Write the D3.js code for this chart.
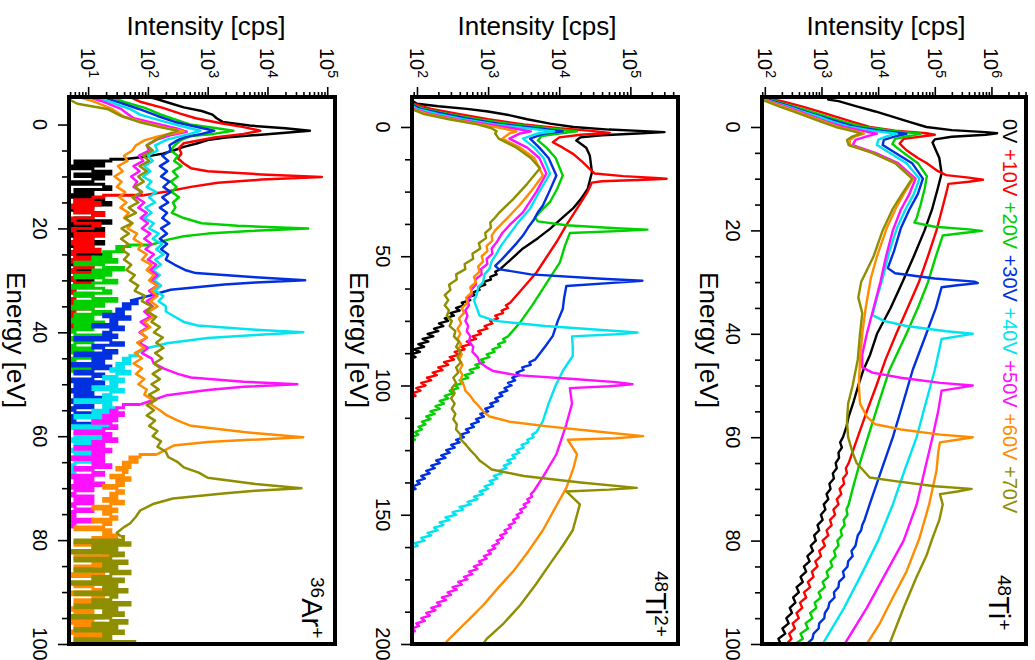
<!DOCTYPE html>
<html><head><meta charset="utf-8">
<script src="https://cdn.jsdelivr.net/npm/d3@7"></script>
<style>body{margin:0;background:#fff}svg text{font-family:"Liberation Sans",Arial,Helvetica,sans-serif}</style>
</head><body><svg id="c" width="1035" height="660"></svg>
<script>
// ---------- DATA (energy in eV, intensity as log10 of cps) ----------
const seriesNames = ["0V","+10V","+20V","+30V","+40V","+50V","+60V","+70V"];
const seriesColors = ["#000000","#ff0000","#00d000","#0030e0","#00e4f0","#ff10ff","#ff8c00","#8e8e00"];

// ---- 48Ti+ ----
const ti1_0V=[[-5.8,3.1],[-5.3,3.12],[-5,3.3],[-4,3.62],[-3,3.95],[-2,4.25],[-1,4.55],[0,4.85],[0.6,5.3],[1.0,5.9],[1.2,6.1],[1.5,5.9],[1.9,5.3],[2.4,5.0],[3,4.96],[4,5.0],[6,5.08],[9,5.12],[12,5.05],[16,4.95],[20,4.82],[25,4.63],[30,4.43],[35,4.22],[40,3.98],[44,3.86],[47,3.74],[50,3.65],[53,3.57],[56,3.48],[58,3.44],[60,3.38],[61,3.33],[62,3.36],[63,3.3],[64,3.31],[65,3.25],[66,3.27],[67,3.2],[68,3.22],[69,3.14],[70,3.16],[71,3.09],[72,3.12],[73,3.04],[74,3.07],[75,2.99],[76,3.02],[77,2.93],[78,2.96],[79,2.87],[80,2.9],[81,2.81],[82,2.85],[83,2.75],[84,2.79],[85,2.69],[86,2.73],[87,2.63],[88,2.67],[89,2.56],[90,2.6],[91,2.5],[92,2.54],[93,2.44],[94,2.48],[95,2.38],[96,2.42],[97,2.31],[98,2.36],[99,2.24],[100,2.28]];
const ti1_10V=[[-5.8,1.9],[-5.5,2.05],[-5,2.3],[-4,2.65],[-3,2.95],[-2,3.25],[-1,3.55],[0,3.85],[0.7,4.3],[1.2,4.85],[1.5,5.0],[1.8,4.8],[2.3,4.45],[3.2,4.38],[4.5,4.5],[6,4.7],[7,4.86],[8.5,5.05],[9.3,5.2],[9.8,5.6],[10.2,5.85],[10.6,5.6],[11,5.24],[12,5.22],[15,5.15],[20,5.03],[25,4.88],[30,4.72],[35,4.52],[40,4.32],[45,4.13],[50,3.97],[55,3.8],[60,3.64],[65,3.48],[66,3.43],[67,3.45],[68,3.38],[69,3.4],[70,3.32],[71,3.35],[72,3.27],[73,3.3],[74,3.21],[75,3.24],[76,3.15],[77,3.18],[78,3.09],[79,3.12],[80,3.02],[81,3.06],[82,2.96],[83,2.99],[84,2.89],[85,2.93],[86,2.83],[87,2.86],[88,2.76],[89,2.8],[90,2.69],[91,2.73],[92,2.62],[93,2.66],[94,2.56],[95,2.6],[96,2.49],[97,2.53],[98,2.43],[99,2.47],[100,2.38]];
const ti1_20V=[[-5.8,1.9],[-5.3,2.1],[-4,2.5],[-3,2.8],[-2,3.1],[-1,3.4],[0,3.75],[0.8,4.3],[1.3,4.75],[1.7,4.55],[2.3,4.3],[3.3,4.25],[5,4.45],[7,4.7],[9.5,4.86],[12,4.82],[15,4.75],[17.6,4.68],[18.5,4.64],[19.3,5.0],[19.8,5.6],[20.1,5.83],[20.5,5.5],[21,5.14],[25,5.02],[30,4.88],[35,4.7],[40,4.5],[47,4.2],[53,4.02],[60,3.82],[66,3.65],[70,3.55],[73,3.48],[74,3.44],[75,3.46],[76,3.39],[77,3.41],[78,3.34],[79,3.36],[80,3.28],[81,3.3],[82,3.22],[83,3.25],[84,3.16],[85,3.19],[86,3.09],[87,3.12],[88,3.02],[89,3.06],[90,2.95],[91,2.99],[92,2.88],[93,2.91],[94,2.8],[95,2.84],[96,2.72],[97,2.76],[98,2.63],[99,2.67],[100,2.53]];
const ti1_30V=[[-5.8,1.9],[-5.3,2.05],[-4,2.45],[-3,2.7],[-2,3.0],[-1,3.3],[0,3.6],[0.8,4.1],[1.3,4.5],[1.8,4.3],[2.5,4.1],[3.5,4.08],[5,4.3],[7,4.6],[10,4.79],[13,4.7],[16,4.55],[19.6,4.4],[24,4.28],[27.3,4.17],[28.3,4.3],[29.3,5.0],[29.9,5.7],[30.2,5.76],[30.6,5.4],[31,5.12],[35,5.02],[40,4.85],[47,4.61],[53,4.45],[60,4.26],[66,4.07],[73,3.85],[76,3.76],[77,3.72],[78,3.7],[79,3.64],[80,3.62],[81,3.6],[82,3.53],[83,3.55],[84,3.47],[85,3.46],[86,3.38],[87,3.4],[88,3.31],[89,3.3],[90,3.22],[91,3.23],[92,3.14],[93,3.12],[94,3.06],[95,3.05],[96,2.96],[97,2.95],[98,2.86],[99,2.84],[100,2.74]];
const ti1_40V=[[-5.8,1.9],[-5.3,2.0],[-4,2.4],[-3,2.65],[-2,2.95],[-1,3.2],[0,3.5],[0.8,3.95],[1.3,4.33],[1.8,4.15],[2.5,4.0],[3.5,3.98],[5,4.2],[7,4.5],[10,4.73],[13,4.63],[16,4.48],[19.6,4.33],[24,4.2],[29.3,4.08],[33,3.98],[36.4,3.9],[37.5,4.1],[38.5,4.5],[39.5,5.2],[40,5.67],[40.5,5.4],[41,5.12],[44,5.06],[47,5.0],[53,4.85],[60,4.68],[66,4.48],[73,4.26],[80,4.0],[86,3.73],[93,3.4],[100,3.02]];
const ti1_50V=[[-5.8,1.9],[-5.3,2.0],[-4,2.35],[-3,2.6],[-2,2.85],[-1,3.1],[0,3.4],[0.8,3.75],[1.3,3.98],[1.8,3.8],[2.5,3.6],[3.5,3.55],[5,3.95],[7,4.35],[10,4.66],[13,4.55],[16,4.4],[20,4.26],[25,4.14],[30,4.04],[35,3.92],[40,3.8],[44,3.72],[46.5,3.72],[47.5,3.9],[48.5,4.4],[49.5,5.1],[50,5.67],[50.5,5.4],[51,5.12],[55,5.06],[60,4.96],[66,4.83],[73,4.68],[80,4.45],[86,4.15],[93,3.8],[100,3.41]];
const ti1_60V=[[-5.8,1.9],[-5.3,1.98],[-4,2.3],[-3,2.55],[-2,2.8],[-1,3.05],[0,3.3],[0.8,3.6],[1.3,3.75],[1.8,3.6],[2.5,3.5],[3.5,3.5],[5,3.9],[7,4.3],[10,4.62],[13,4.45],[16,4.3],[19.6,4.15],[25,3.98],[29.3,3.87],[35,3.78],[40,3.72],[45,3.68],[50,3.66],[53.5,3.68],[56,3.8],[57.5,3.95],[58.5,4.4],[59.5,5.1],[60,5.67],[60.5,5.4],[61,5.09],[63,5.06],[66.5,5.03],[73,4.9],[79.5,4.73],[86,4.5],[91,4.26],[96,4.03],[100,3.8]];
const ti1_70V=[[-5.8,1.9],[-5.3,1.95],[-4,2.25],[-3,2.5],[-2,2.75],[-1,3.0],[0,3.25],[0.8,3.55],[1.3,3.7],[1.8,3.55],[2.5,3.45],[3.5,3.48],[5,3.9],[7,4.3],[10,4.6],[13,4.42],[16,4.25],[20,4.08],[25,3.92],[30,3.7],[33,3.65],[36,3.72],[40,3.68],[45,3.64],[50,3.55],[53.5,3.47],[57,3.45],[60,3.47],[63,3.55],[65,3.62],[67.8,3.85],[68.5,4.3],[69.5,5.0],[70,5.65],[70.5,5.4],[71,5.09],[73,5.14],[76,5.08],[79.5,4.96],[83,4.85],[87,4.68],[93,4.45],[100,4.2]];

// ---- 48Ti2+ ----
const ti2_0V=[[-11.6,1.85],[-9,2.0],[-8,2.3],[-7,2.7],[-6,3.0],[-4.5,3.31],[-3,3.55],[-1.3,3.87],[0,4.2],[1,4.7],[1.6,5.2],[2,5.48],[2.5,5.1],[3.2,4.6],[4,4.3],[5.2,4.24],[8,4.38],[11,4.43],[17.5,4.46],[24,4.4],[28,4.3],[31.6,4.19],[35,4.05],[39.4,3.87],[43,3.7],[47,3.49],[51,3.33],[55,3.17],[56,3.1],[57,3.12],[58,3.03],[59,3.04],[60,2.93],[61,2.96],[62,2.86],[63,2.88],[64,2.79],[65,2.81],[66,2.7],[67,2.75],[68,2.63],[69,2.66],[70,2.55],[71,2.6],[72,2.47],[73,2.52],[74,2.39],[75,2.44],[76,2.31],[77,2.37],[78,2.24],[79,2.3],[80,2.15],[81,2.23],[82,2.08],[83,2.16],[84,2.02],[85,2.1],[86,1.96],[87,2.04],[88,1.9],[89,1.98],[90,1.85]];
const ti2_10V=[[-11.6,1.85],[-9,1.95],[-7,2.2],[-5,2.6],[-3,3.0],[-1,3.5],[0.5,4.0],[1.5,4.45],[2.3,4.71],[3,4.3],[4,4.0],[5.9,3.91],[8,4.05],[10.5,4.2],[13.6,4.33],[16,4.42],[18,4.5],[19,4.9],[19.7,5.35],[20,5.51],[20.4,5.2],[21,4.6],[21.5,4.46],[25,4.4],[31.6,4.25],[38,4.1],[44.6,3.96],[50,3.83],[56.3,3.68],[62,3.5],[68,3.31],[69,3.25],[70,3.28],[71,3.19],[72,3.21],[73,3.1],[74,3.14],[75,3.03],[76,3.06],[77,2.95],[78,2.99],[79,2.86],[80,2.9],[81,2.78],[82,2.83],[83,2.7],[84,2.76],[85,2.62],[86,2.67],[87,2.53],[88,2.6],[89,2.46],[90,2.52],[91,2.38],[92,2.44],[93,2.3],[94,2.36],[95,2.22],[96,2.28],[97,2.14],[98,2.2],[99,2.06],[100,2.12],[101,1.99],[102,2.05],[103,1.93],[104,1.98],[105,1.86]];
const ti2_20V=[[-11.6,1.85],[-9,1.9],[-7,2.1],[-5,2.45],[-3,2.85],[-1,3.35],[0.5,3.85],[1.7,4.25],[2.5,4.0],[3.5,3.75],[5.2,3.7],[8,3.82],[12,3.95],[18.8,4.05],[24,3.97],[29,3.87],[32,3.76],[35,3.66],[36.5,3.7],[38,4.1],[39.2,4.8],[39.7,5.24],[40.2,4.9],[41,4.15],[46,4.08],[52.4,4.01],[57,3.9],[62.6,3.77],[69,3.62],[75.6,3.45],[81,3.28],[82,3.21],[83,3.24],[84,3.14],[85,3.17],[86,3.06],[87,3.09],[88,2.98],[89,3.02],[90,2.9],[91,2.94],[92,2.82],[93,2.87],[94,2.74],[95,2.79],[96,2.67],[97,2.72],[98,2.6],[99,2.65],[100,2.53],[101,2.58],[102,2.46],[103,2.51],[104,2.39],[105,2.44],[106,2.32],[107,2.38],[108,2.26],[109,2.32],[110,2.19],[111,2.25],[112,2.13],[113,2.19],[114,2.07],[115,2.12],[116,2.02],[117,2.07],[118,1.97],[119,2.02],[120,1.92],[121,1.97],[122,1.87]];
const ti2_30V=[[-11.6,1.85],[-9,1.9],[-7,2.05],[-5,2.4],[-3,2.75],[-1,3.2],[0.5,3.7],[1.7,4.05],[2.5,3.8],[4.5,3.59],[8,3.72],[12,3.85],[18.8,3.96],[25,3.86],[30.4,3.77],[33,3.7],[36,3.64],[39,3.56],[42,3.49],[45,3.4],[48,3.3],[51,3.2],[53.7,3.1],[55,3.15],[57,3.6],[58.7,4.6],[59.5,5.17],[60.2,4.8],[61.5,4.1],[66,4.07],[70.4,4.05],[75,3.98],[80.8,3.91],[85,3.8],[90,3.66],[91,3.58],[92,3.6],[93,3.48],[94,3.5],[95,3.4],[96,3.44],[97,3.34],[98,3.38],[99,3.28],[100,3.33],[101,3.23],[102,3.27],[103,3.16],[104,3.2],[105,3.1],[106,3.14],[107,3.03],[108,3.07],[109,2.96],[110,3.0],[111,2.89],[112,2.94],[113,2.83],[114,2.87],[115,2.76],[116,2.8],[117,2.69],[118,2.73],[119,2.61],[120,2.66],[121,2.55],[122,2.6],[123,2.48],[124,2.53],[125,2.41],[126,2.46],[127,2.34],[128,2.4],[129,2.27],[130,2.32],[131,2.2],[132,2.25],[133,2.13],[134,2.18],[135,2.06],[136,2.11],[137,2.0],[138,2.04],[139,1.94],[140,1.98],[141,1.88]];
const ti2_40V=[[-11.6,1.85],[-9,1.88],[-7,2.0],[-5,2.3],[-3,2.65],[-1,3.1],[0.5,3.55],[1.7,3.93],[2.5,3.7],[4.5,3.49],[8,3.65],[12,3.78],[18,3.87],[25,3.72],[31.6,3.59],[37,3.42],[43,3.26],[46,3.18],[49,3.12],[52,3.05],[54.8,3.02],[57,2.95],[60,2.93],[62,2.86],[65,2.84],[67,2.8],[70,2.84],[73,2.88],[75,3.1],[77,3.8],[78.7,4.7],[79.5,5.1],[80.2,4.8],[81,4.18],[85,4.19],[88.6,4.19],[94.4,4.05],[100,3.95],[107,3.85],[113.8,3.77],[118,3.68],[119,3.62],[120,3.64],[121,3.55],[122,3.57],[123,3.47],[124,3.5],[125,3.4],[126,3.44],[127,3.34],[128,3.38],[129,3.27],[130,3.32],[131,3.22],[132,3.26],[133,3.15],[134,3.19],[135,3.08],[136,3.13],[137,3.02],[138,3.07],[139,2.95],[140,3.0],[141,2.88],[142,2.93],[143,2.8],[144,2.85],[145,2.71],[146,2.76],[147,2.6],[148,2.65],[149,2.5],[150,2.55],[151,2.4],[152,2.46],[153,2.32],[154,2.37],[155,2.24],[156,2.29],[157,2.15],[158,2.2],[159,2.06],[160,2.11],[161,1.97],[162,2.01],[163,1.88]];
const ti2_50V=[[-11.6,1.85],[-7,1.95],[-5,2.2],[-3,2.55],[-1,3.0],[0.5,3.35],[1.7,3.6],[2.5,3.45],[4.5,3.3],[8,3.55],[12,3.72],[18,3.82],[25,3.68],[33,3.49],[38,3.3],[41,3.2],[44.6,3.12],[47,3.05],[49,3.06],[51,2.98],[53,2.99],[55,2.9],[57,2.91],[59,2.82],[61,2.83],[63,2.76],[65,2.77],[67,2.71],[69,2.73],[71,2.68],[73,2.71],[75,2.68],[77,2.72],[79,2.7],[81,2.75],[83,2.73],[85,2.79],[87,2.78],[89,2.85],[91,2.88],[93,2.98],[94.4,3.07],[96,3.4],[97.5,4.2],[98.7,4.8],[99.5,5.03],[100.3,4.7],[101,4.15],[107,4.18],[115,4.1],[126.6,3.96],[135,3.78],[141,3.64],[142,3.6],[143,3.62],[144,3.55],[145,3.58],[146,3.5],[147,3.53],[148,3.45],[149,3.48],[150,3.4],[151,3.43],[152,3.35],[153,3.38],[154,3.29],[155,3.32],[156,3.23],[157,3.26],[158,3.17],[159,3.21],[160,3.12],[161,3.15],[162,3.06],[163,3.1],[164,3.0],[165,3.04],[166,2.94],[167,2.98],[168,2.87],[169,2.91],[170,2.8],[171,2.85],[172,2.73],[173,2.78],[174,2.66],[175,2.71],[176,2.58],[177,2.63],[178,2.5],[179,2.56],[180,2.43],[181,2.48],[182,2.35],[183,2.41],[184,2.28],[185,2.33],[186,2.2],[187,2.26],[188,2.13],[189,2.18],[190,2.06],[191,2.11],[192,1.99],[193,2.03],[194,1.93],[195,1.97],[196,1.87]];
const ti2_60V=[[-11.6,1.85],[-7,1.93],[-5,2.15],[-3,2.5],[-1,2.9],[0.5,3.2],[1.7,3.4],[2.5,3.3],[4.5,3.2],[8,3.45],[12,3.65],[18.8,3.77],[25,3.6],[30,3.45],[35,3.28],[40,3.1],[42,3.05],[44,3.06],[46,2.98],[48,2.99],[50,2.91],[52,2.93],[54,2.86],[56,2.88],[58,2.8],[60,2.83],[62,2.75],[64,2.77],[66,2.69],[68,2.71],[70,2.63],[72,2.66],[74,2.59],[76,2.62],[78,2.57],[80,2.61],[82,2.57],[84,2.62],[86,2.58],[88,2.63],[90,2.59],[92,2.64],[94,2.6],[96,2.64],[98,2.61],[100,2.66],[102,2.68],[104,2.75],[106,2.8],[108,2.87],[110,2.93],[112,3.02],[114,3.3],[116,3.9],[118,4.6],[119.6,5.18],[120.4,4.8],[121,4.12],[126.6,4.25],[132,4.2],[139.6,4.1],[147,3.95],[156,3.77],[164,3.57],[172,3.35],[178,3.15],[185,2.93],[190,2.75],[194,2.6],[199,2.42],[200,2.4]];
const ti2_70V=[[-11.6,1.85],[-7,1.92],[-5,2.1],[-3,2.45],[-1,2.85],[0.5,3.05],[1.7,3.12],[2.5,3.1],[4.5,3.15],[8,3.4],[12,3.6],[16,3.73],[22,3.55],[28,3.35],[33,3.16],[35,3.1],[37,3.03],[39,3.04],[41,2.96],[43,2.97],[45,2.87],[47,2.89],[49,2.78],[51,2.79],[53,2.67],[55,2.68],[57,2.55],[59,2.56],[61,2.45],[63,2.47],[65,2.39],[67,2.44],[69,2.39],[71,2.45],[73,2.42],[75,2.49],[77,2.46],[79,2.54],[81,2.52],[83,2.59],[85,2.55],[87,2.61],[89,2.57],[91,2.62],[93,2.55],[95,2.58],[97,2.51],[99,2.55],[101,2.49],[103,2.53],[105,2.48],[107,2.53],[109,2.49],[111,2.54],[113,2.51],[115,2.56],[117,2.55],[119,2.61],[121,2.62],[123,2.69],[125,2.75],[127,2.82],[129,2.88],[131,2.98],[132.5,3.05],[135,3.5],[137.5,4.3],[139.6,5.09],[140.3,4.7],[141,4.1],[146,4.29],[151,4.24],[156,4.19],[162,4.05],[169,3.87],[177,3.67],[185,3.45],[192,3.22],[198,2.98],[200,2.93]];

// ---- 36Ar+ (main traces) ----
const ar_0V=[[-5.3,2.0],[-5,2.12],[-4.3,2.32],[-3.3,2.6],[-2.6,2.9],[-1.9,3.08],[-1.2,3.15],[-0.5,3.25],[0.2,3.7],[0.7,4.3],[1.2,4.71],[1.6,4.3],[2,3.84],[2.5,3.3],[3,3.0],[3.6,2.83],[4.3,2.6],[5,2.43],[5.6,2.25],[6.2,1.95],[6.7,1.6]];
const ar_10V=[[-5.3,1.7],[-4.4,1.87],[-3.2,2.25],[-2.1,2.54],[-1.2,2.8],[-0.3,3.2],[0.5,3.6],[1.2,3.88],[1.8,3.6],[2.5,3.11],[3.6,2.6],[4.5,2.52],[5.6,2.56],[6.5,2.5],[7.5,2.6],[8.4,2.72],[9,3.0],[9.6,3.9],[10.1,4.91],[10.6,3.9],[11.2,3.17],[12,2.72],[12.9,2.32],[13.6,1.93]];
const ar_20V=[[-5.3,1.4],[-4.4,1.59],[-3.2,1.95],[-2,2.2],[-1,2.45],[0,2.7],[0.6,3.1],[1.2,3.43],[1.8,3.1],[2.2,2.72],[3,2.55],[4,2.45],[5,2.38],[6,2.5],[7,2.44],[8,2.56],[9,2.42],[10,2.5],[11,2.38],[12,2.48],[13,2.4],[14,2.52],[15,2.42],[16,2.46],[17,2.4],[18,2.6],[19,2.9],[19.5,3.5],[20,4.68],[20.5,3.7],[21,3.0],[21.5,2.6],[22.2,2.32],[23.2,2.04]];
const ar_30V=[[-5.3,1.25],[-4.4,1.48],[-3,1.85],[-1.7,2.15],[-0.5,2.45],[0.3,2.75],[1.2,3.11],[1.8,2.9],[2.5,2.6],[3,2.5],[4,2.36],[5,2.38],[6,2.24],[7,2.34],[8,2.2],[9,2.32],[10,2.22],[11,2.36],[12,2.26],[13,2.38],[14,2.24],[15,2.34],[16,2.2],[17,2.32],[18,2.24],[19,2.36],[20,2.22],[21,2.32],[22,2.2],[23,2.32],[24,2.22],[25,2.34],[26,2.3],[27,2.45],[28,2.62],[28.6,2.8],[29.4,3.8],[30,4.63],[30.4,3.8],[30.8,3.28],[31.8,2.38],[32.9,2.04],[33.9,1.7]];
const ar_40V=[[-5.3,1.1],[-4.4,1.35],[-3,1.7],[-1.9,1.87],[-0.8,2.2],[0.3,2.55],[1.2,2.88],[1.8,2.7],[2.9,2.32],[4,2.12],[5,2.16],[6,2.0],[7,2.08],[8,1.94],[9,2.04],[10,1.92],[11,2.06],[12,1.98],[13,2.14],[14,2.02],[15,2.12],[16,1.96],[17,2.06],[18,1.94],[19,2.1],[20,2.02],[21,2.18],[22,2.08],[23,2.24],[24,2.14],[25,2.26],[26,2.12],[27,2.22],[28,2.08],[29,2.2],[30,2.1],[31,2.22],[32,2.12],[33,2.26],[34,2.18],[35,2.3],[36,2.3],[37,2.45],[38,2.6],[38.7,2.83],[39.5,3.8],[40,4.6],[40.5,3.8],[41.1,3.0],[42.1,2.32],[43.2,1.93],[44,1.82]];
const ar_50V=[[-5.3,1.0],[-4.4,1.25],[-3,1.55],[-1.2,1.76],[0,2.2],[0.8,2.5],[1.4,2.65],[2,2.4],[2.9,2.15],[4,1.98],[5,2.02],[6,1.85],[7,1.92],[8,1.76],[9,1.86],[10,1.72],[11,1.82],[12,1.76],[13,1.9],[14,1.8],[15,1.94],[16,1.84],[17,1.98],[18,1.88],[19,2.0],[20,1.9],[21,2.04],[22,1.94],[23,2.06],[24,1.96],[25,2.1],[26,2.0],[27,2.14],[28,2.04],[29,2.16],[30,2.06],[31,2.16],[32,2.02],[33,2.12],[34,1.98],[35,2.08],[36,1.94],[37,2.04],[38,1.88],[39,2.0],[40,1.86],[41,1.98],[42,1.86],[43,2.0],[44,1.9],[45,2.06],[46,2.1],[47,2.27],[48,2.5],[48.7,2.72],[49.5,3.6],[50,4.5],[50.5,3.6],[51.1,3.0],[52.1,2.32],[53.9,1.87]];
const ar_60V=[[-5.3,0.85],[-4.4,1.1],[-3,1.4],[-1.5,1.6],[-0.5,1.9],[0.5,2.25],[1.3,2.6],[2.2,2.2],[3,1.95],[4,1.8],[5,1.74],[6,1.6],[7,1.66],[8,1.5],[9,1.58],[10,1.44],[11,1.56],[12,1.48],[13,1.62],[14,1.52],[15,1.64],[16,1.54],[17,1.68],[18,1.6],[19,1.74],[20,1.66],[21,1.82],[22,1.76],[23,1.9],[24,1.84],[25,1.98],[26,1.9],[27,2.06],[28,1.98],[29,2.1],[30,2.02],[31,2.16],[32,2.06],[33,2.16],[34,2.04],[35,2.16],[36,2.02],[37,2.1],[38,1.94],[39,2.04],[40,1.88],[41,1.98],[42,1.82],[43,1.94],[44,1.78],[45,1.9],[46,1.76],[47,1.9],[48,1.8],[49,1.94],[50,1.84],[51,1.98],[52,1.94],[53,2.08],[54,2.06],[55,2.2],[56,2.32],[57,2.5],[58,2.72],[59.2,3.6],[60.2,4.6],[60.7,3.7],[61.1,3.0],[61.8,2.43],[63.5,2.15]];
const ar_70V=[[-5.3,0.6],[-4,0.82],[-3,1.32],[-1.7,1.54],[-0.5,1.85],[0.5,2.2],[1.2,2.5],[2,2.3],[3,2.12],[4,1.98],[5,2.08],[6,1.92],[7,2.02],[8,1.86],[9,1.98],[10,1.84],[11,1.93],[12,1.78],[13,1.9],[14,1.74],[15,1.84],[16,1.68],[17,1.8],[18,1.62],[19,1.74],[20,1.56],[21,1.68],[22,1.55],[23,1.67],[24,1.56],[25,1.68],[26,1.6],[27,1.72],[28,1.64],[29,1.78],[30,1.7],[31,1.84],[32,1.78],[33,1.95],[34,1.9],[35,2.06],[36,1.98],[37,2.14],[38,2.06],[39,2.2],[40,2.1],[41,2.25],[42,2.14],[43,2.26],[44,2.12],[45,2.24],[46,2.1],[47,2.22],[48,2.08],[49,2.2],[50,2.06],[51,2.18],[52,2.02],[53,2.14],[54,1.98],[55,2.1],[56,1.98],[57,2.12],[58,2.02],[59,2.16],[60,2.08],[61,2.22],[62,2.16],[63,2.3],[64,2.34],[65,2.5],[66,2.6],[67,2.85],[68,3.0],[69.2,3.8],[70,4.57],[70.5,3.8],[71,3.3],[72,2.42],[73,2.1],[74.3,1.87],[75.5,1.8],[76.8,1.7],[77.5,1.6],[78.6,1.48],[79.3,1.55]];
// ---- 36Ar+ counting-noise floors (log10 cps), one value every 0.5 eV from the start energies ----
const arFloorStart=[7,14,23.5,34.5,44.5,54.5,64,80];
const arFloorStep=0.5;
const arFloor_0V=[1.38,0.78,1.26,0.5,1.08,1.38,0.78,1.26,1.08,0.5,1.26,1.38,0.78,1.08,0.5,1.26,0.78,1.38,1.08,0.5,0.78,1.26,1.08,0.78,1.38,0.5,1.08,1.26,0.78,0.5,1.08,0.78,1.26,0.5,1.08,0.78,0.5,1.26,0.78,1.08,0.5,0.78,1.08,0.5,1.26,0.78,0.5,1.08,0.78,0.5,0.78];
const arFloor_10V=[1.26,1.08,0.78,1.2,0.5,1.08,0.78,1.26,1.08,0.5,0.78,1.2,1.08,0.5,0.78,1.26,0.78,1.08,0.5,1.08,0.78,1.2,0.5,0.78,1.08,0.5,0.78,1.08,0.78,0.5,1.08,0.78,0.5,0.78,1.08,0.5,0.78,0.5,1.08,0.78,0.5,0.78,0.5,1.08,0.78,0.5,0.78,0.5,0.78,1.08,0.5,0.78,0.5];
const arFloor_20V=[1.7,1.48,1.59,1.26,1.38,1.08,1.48,0.78,1.26,1.59,1.08,1.38,0.78,1.26,1.48,1.08,0.5,1.26,1.38,0.78,1.08,1.48,0.78,1.26,0.5,1.08,1.38,0.78,1.08,0.5,1.26,0.78,1.08,0.5,0.78,1.26,0.5,1.08,0.78,0.5,1.08,0.5,0.78,1.08,0.5,0.78,0.5,1.08,0.5,0.78];
const arFloor_30V=[1.82,1.59,1.7,1.48,1.59,1.26,1.7,1.38,1.48,1.08,1.59,1.38,1.26,1.48,0.78,1.38,1.59,1.08,1.26,1.48,0.78,1.38,1.08,1.26,0.5,1.38,1.08,0.78,1.26,1.08,0.5,1.26,0.78,1.08,0.5,1.08,0.78,1.26,0.5,0.78,1.08,0.5,0.78,1.08,0.5,0.78,0.5,1.08,0.5];
const arFloor_40V=[1.82,1.7,1.59,1.7,1.48,1.59,1.38,1.7,1.48,1.26,1.59,1.38,1.48,1.08,1.59,1.38,1.26,1.48,0.78,1.38,1.26,1.48,1.08,1.38,0.78,1.26,1.08,1.38,0.5,1.26,1.08,0.78,1.26,0.5,1.08,0.78,1.26,0.5,1.08,0.78,0.5,1.08,0.78,0.5,1.08,0.5,0.78,0.5,0.78];
const arFloor_50V=[1.59,1.48,1.38,1.59,1.26,1.48,1.08,1.38,1.48,1.26,0.78,1.38,1.26,1.48,1.08,1.26,0.78,1.38,1.08,1.26,0.5,1.26,1.08,1.38,0.78,1.08,1.26,0.5,1.08,0.78,1.26,0.5,1.08,0.78,0.5,1.08,0.78,1.08,0.5,0.78,1.08,0.5,0.78,0.5,1.08,0.5,0.78,0.5];
const arFloor_60V=[1.87,1.7,1.82,1.59,1.7,1.48,1.65,1.59,1.38,1.7,1.48,1.59,1.26,1.48,1.59,1.38,1.48,1.26,1.59,1.38,1.08,1.48,1.26,1.38,1.48,1.08,1.38,1.26,0.78,1.38,1.26,1.48,1.08,1.26,0.78,1.38,1.08,1.26,1.48,0.78,1.26,1.08,1.38,0.78,1.08,1.26,0.5,1.26,1.08,1.38,0.78,1.08,1.26,0.5,1.08,1.26,0.78,1.08,1.38,0.5,1.08,0.78,1.26,1.08,0.5,1.26,0.78,1.08,0.5,1.26,0.78,1.08,0.78];
const arFloor_70V=[1.59,0.78,1.7,1.08,1.48,0.5,1.59,1.38,0.78,1.65,1.26,1.48,0.78,1.7,1.38,1.08,1.59,0.5,1.48,1.26,1.65,0.78,1.48,1.38,1.08,1.7,0.78,1.48,1.26,1.59,0.5,1.38,1.65,1.08,1.48,0.78,1.59,1.26,1.38,0.78,1.78];

// axis tick labels
const ti1EnergyTicks=[0,20,40,60,80,100];
const ti2EnergyTicks=[0,50,100,150,200];
const arEnergyTicks=[0,20,40,60,80,100];
const ti1Decades=[2,3,4,5,6];
const ti2Decades=[2,3,4,5];
const arDecades=[1,2,3,4,5];

// ---------- BUILD ----------
const ti1Series=[ti1_0V,ti1_10V,ti1_20V,ti1_30V,ti1_40V,ti1_50V,ti1_60V,ti1_70V];
const ti2Series=[ti2_0V,ti2_10V,ti2_20V,ti2_30V,ti2_40V,ti2_50V,ti2_60V,ti2_70V];
const arMain=[ar_0V,ar_10V,ar_20V,ar_30V,ar_40V,ar_50V,ar_60V,ar_70V];
const arFloors=[arFloor_0V,arFloor_10V,arFloor_20V,arFloor_30V,arFloor_40V,arFloor_50V,arFloor_60V,arFloor_70V];
const arFloorPts=arFloors.map((f,i)=>[arMain[i][arMain[i].length-1]].concat(f.map((v,k)=>[arFloorStart[i]+k*arFloorStep,v])));

const panels=[
 {key:"ti1",series:ti1Series,floors:null,x0:762,x1:1026,y0:97,y1:644,lmin:1.95,lmax:6.61,emin:-5.8,emax:100,
  eTicks:ti1EnergyTicks,eMinor:5,decades:ti1Decades,titleX:886,sw:2.4,
  tag:[["48",1],["Ti",0],["+",1]],tagX:989,tagY:575},
 {key:"ti2",series:ti2Series,floors:null,x0:412,x1:678,y0:97,y1:644,lmin:1.93,lmax:5.67,emin:-11.6,emax:200,
  eTicks:ti2EnergyTicks,eMinor:12.5,decades:ti2Decades,titleX:537,sw:2.4,
  tag:[["48",1],["Ti",0],["2+",1]],tagX:646,tagY:571},
 {key:"ar",series:arMain,floors:arFloorPts,x0:69,x1:335,y0:97,y1:644,lmin:0.68,lmax:5.13,emin:-5.3,emax:100,
  eTicks:arEnergyTicks,eMinor:5,decades:arDecades,titleX:206,sw:2.5,
  tag:[["36",1],["Ar",0],["+",1]],tagX:302,tagY:577}
];

const svg=d3.select("#c");
svg.append("rect").attr("width",1035).attr("height",660).attr("fill","#fff");
const defs=svg.append("defs");

function rotText(g,x,y,parts,size,supSize,anchor,shift){
  const sh=shift||supSize*0.6;
  const t=g.append("text").attr("transform",`translate(${x},${y}) rotate(90)`)
    .attr("font-size",size).attr("text-anchor",anchor||"start");
  let raised=false;
  parts.forEach(p=>{
    const s=t.append("tspan").text(p[0]);
    if(p[1]){ s.attr("font-size",supSize); if(!raised){s.attr("dy",-sh);raised=true;} }
    else if(raised){ s.attr("dy",sh); raised=false; }
    if(p[2]) s.attr("fill",p[2]);
  });
  return t;
}

panels.forEach(P=>{
  const g=svg.append("g");
  const x=d3.scaleLog().domain([10**P.lmin,10**P.lmax]).range([P.x0,P.x1]);
  const y=d3.scaleLinear().domain([P.emin,P.emax]).range([P.y0,P.y1]);
  const cid="clip-"+P.key;
  defs.append("clipPath").attr("id",cid).append("rect")
    .attr("x",P.x0).attr("y",P.y0).attr("width",P.x1-P.x0).attr("height",P.y1-P.y0);
  const line=d3.line().x(d=>x(10**d[1])).y(d=>y(d[0]));
  const stepLine=d3.line().x(d=>x(10**d[1])).y(d=>y(d[0])).curve(d3.curveStepAfter);
  const lg=g.append("g").attr("clip-path",`url(#${cid})`);
  P.series.forEach((s,i)=>{
    lg.append("path").attr("d",line(s)).attr("fill","none").attr("stroke",seriesColors[i])
      .attr("stroke-width",P.sw).attr("stroke-linejoin","round");
    if(P.floors){
      lg.append("path").attr("d",stepLine(P.floors[i])).attr("fill","none").attr("stroke",seriesColors[i])
        .attr("stroke-width",3);
    }
  });
  // intensity axis (top)
  const majors=P.decades.map(d=>10**d);
  const minors=[];
  for(let d=Math.floor(P.lmin);d<=Math.ceil(P.lmax);d++){for(let m=2;m<=9;m++){const v=m*10**d;if(Math.log10(v)>=P.lmin&&Math.log10(v)<=P.lmax)minors.push(v);}}
  const ax=g.append("g").attr("transform",`translate(0,${P.y0})`);
  ax.call(d3.axisTop(x).tickValues(majors).tickSize(10).tickFormat(""));
  ax.select(".domain").remove();
  const axm=g.append("g").attr("transform",`translate(0,${P.y0})`);
  axm.call(d3.axisTop(x).tickValues(minors).tickSize(5).tickFormat(""));
  axm.select(".domain").remove();
  P.decades.forEach(d=>{
    rotText(g,x(10**d)-7,48,[["10",0],[String(d),1]],20,14,"start",8);
  });
  // energy axis (left)
  const ay=g.append("g").attr("transform",`translate(${P.x0},0)`);
  ay.call(d3.axisLeft(y).tickValues(P.eTicks).tickSize(11).tickFormat(""));
  ay.select(".domain").remove();
  const minorE=d3.range(0,P.emax+0.001,P.eMinor).filter(v=>!P.eTicks.includes(v));
  const aym=g.append("g").attr("transform",`translate(${P.x0},0)`);
  aym.call(d3.axisLeft(y).tickValues(minorE).tickSize(7).tickFormat(""));
  aym.select(".domain").remove();
  g.selectAll(".tick line").attr("stroke","#000").attr("stroke-width",1.6);
  P.eTicks.forEach(v=>{
    rotText(g,P.x0-36,y(v),[[String(v),0]],20,14,"middle");
  });
  // frame
  g.append("rect").attr("x",P.x0).attr("y",P.y0).attr("width",P.x1-P.x0).attr("height",P.y1-P.y0)
    .attr("fill","none").attr("stroke","#000").attr("stroke-width",4);
  // titles
  g.append("text").attr("x",P.titleX).attr("y",35).attr("text-anchor","middle").attr("font-size",26).text("Intensity [cps]");
  rotText(g,P.x0-62,340,[["Energy [eV]",0]],26,16,"middle");
  rotText(g,P.tagX,P.tagY,P.tag,29,19,"start",9);
});

// legend (panel 1)
const lgParts=seriesNames.map((n,i)=>[(i?" ":"")+n,0,seriesColors[i]]);
rotText(svg,1003,119,lgParts,20,14);
</script></body></html>
